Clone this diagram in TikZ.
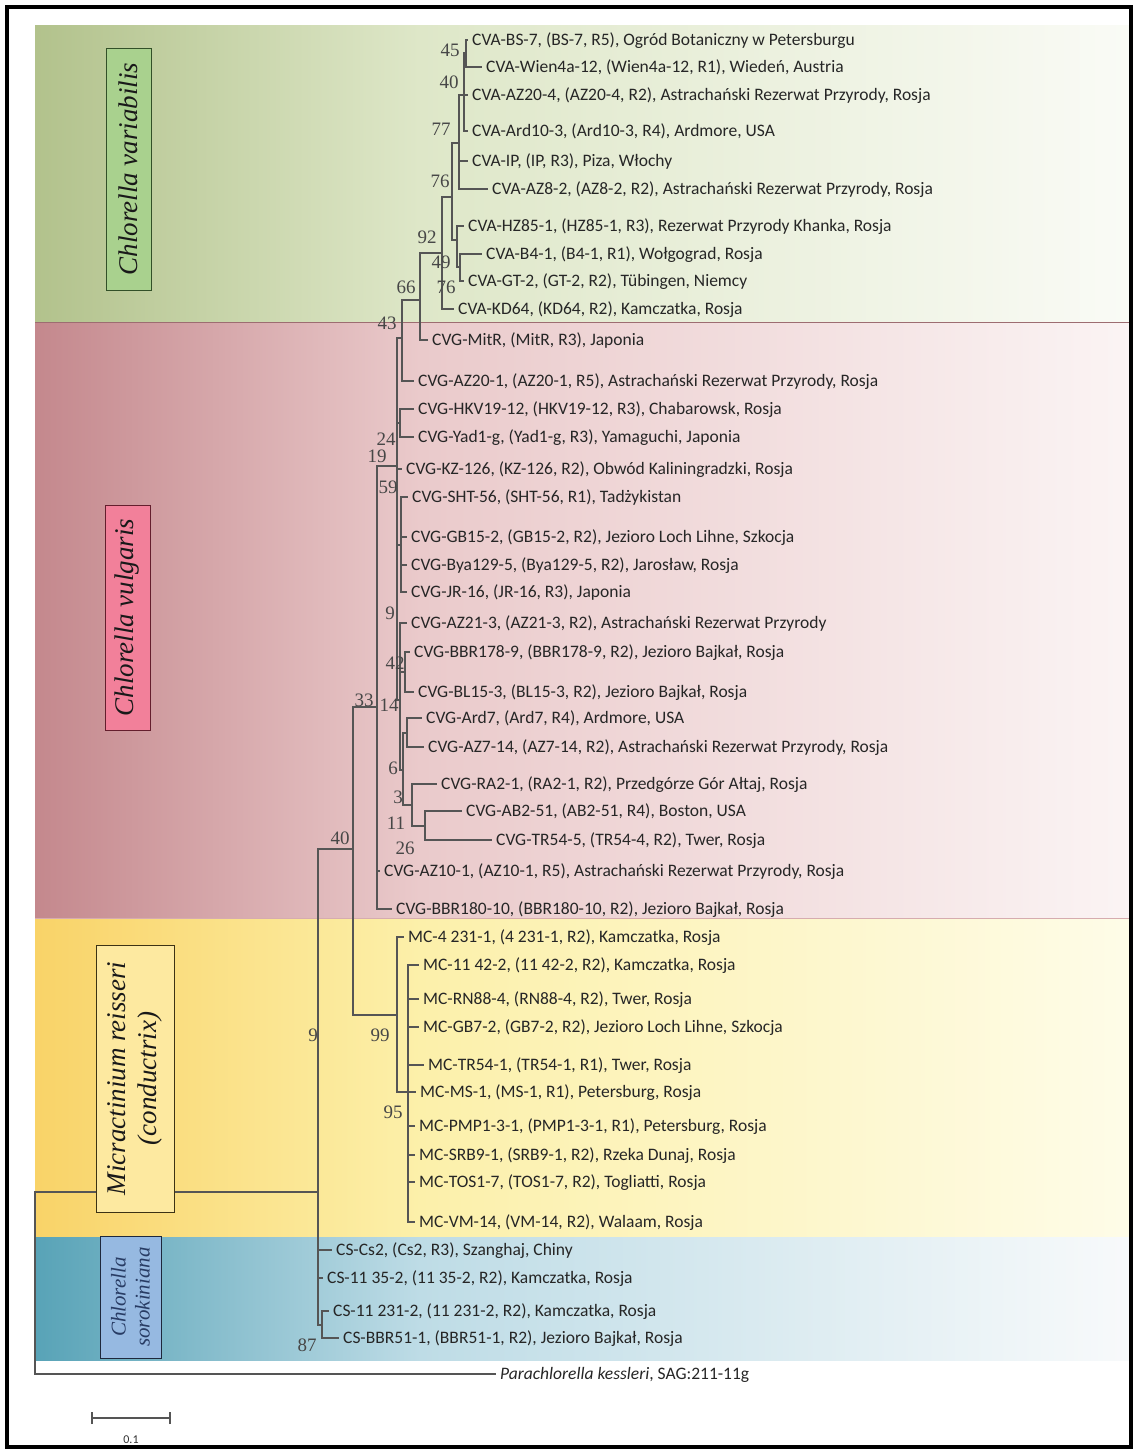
\documentclass[tikz,border=0pt]{standalone}
\usepackage{fontspec}
\setmainfont{Liberation Serif}
\newfontfamily\leaffont{Carlito}
\definecolor{gL}{RGB}{178,194,140}
\definecolor{gM}{RGB}{222,231,200}
\definecolor{gR}{RGB}{250,251,246}
\definecolor{pL}{RGB}{196,136,141}
\definecolor{pM}{RGB}{234,202,203}
\definecolor{pR}{RGB}{251,244,244}
\definecolor{yL}{RGB}{249,211,104}
\definecolor{yM}{RGB}{252,240,170}
\definecolor{yR}{RGB}{254,252,232}
\definecolor{bL}{RGB}{88,163,183}
\definecolor{bM}{RGB}{190,220,230}
\definecolor{bR}{RGB}{248,250,251}
\definecolor{varfill}{RGB}{169,209,142}
\definecolor{vardraw}{RGB}{50,80,40}
\definecolor{vulfill}{RGB}{242,128,154}
\definecolor{vuldraw}{RGB}{100,30,45}
\definecolor{micfill}{RGB}{253,233,160}
\definecolor{micdraw}{RGB}{60,50,20}
\definecolor{sorfill}{RGB}{150,185,225}
\definecolor{sordraw}{RGB}{30,40,60}
\definecolor{sortext}{RGB}{40,60,100}
\definecolor{treeline}{RGB}{85,85,85}
\newcommand{\leafnode}[4]{\node[leaf] (#1) at ({#2-4},#3) {#4};}
\newcommand{\bsv}[3]{\node[bs] (#1) at (#2) {#3};}
\begin{document}
\begin{tikzpicture}[x=1pt,y=-1pt,
  leaf/.style={anchor=west, inner xsep=4pt, inner ysep=0pt, font=\leaffont\fontsize{17.5}{20}\selectfont, text=black!85, text height=12pt, text depth=2pt},
  bs/.style={font=\fontsize{19}{20}\selectfont, text=black!72, inner sep=0pt},
  branch/.style={draw=treeline, line width=1.3pt},
  clabel/.style={rotate=90, draw, line width=0.9pt, font=\itshape\fontsize{27}{31}\selectfont, align=center, inner sep=0pt, text=black!90}
]
\useasboundingbox (0,0) rectangle (1136,1452);
\fill[white] (0,0) rectangle (1136,1452);
% bands
\shade[left color=gL, right color=gM] (35,25) rectangle (420,322);
\shade[left color=gM, right color=gR] (420,25) rectangle (1133,322);
\shade[left color=pL, right color=pM] (35,322) rectangle (420,918);
\shade[left color=pM, right color=pR] (420,322) rectangle (1133,918);
\shade[left color=yL, right color=yM] (35,918) rectangle (420,1237);
\shade[left color=yM, right color=yR] (420,918) rectangle (1133,1237);
\shade[left color=bL, right color=bM] (35,1237) rectangle (420,1360);
\shade[left color=bM, right color=bR] (420,1237) rectangle (1133,1360);
\draw[pL!80!black, line width=0.6pt] (35,322) -- (1133,322);
\draw[pL!70!white, line width=0.6pt] (35,918) -- (1133,918);
% frame
\draw[line width=4.5pt] (7,7) rectangle (1131,1447);

% leaves
\leafnode{l1}{472}{40}{CVA-BS-7, (BS-7, R5), Ogród Botaniczny w Petersburgu}
\leafnode{l2}{486}{67}{CVA-Wien4a-12, (Wien4a-12, R1), Wiedeń, Austria}
\leafnode{l3}{472}{95}{CVA-AZ20-4, (AZ20-4, R2), Astrachański Rezerwat Przyrody, Rosja}
\leafnode{l4}{472}{131}{CVA-Ard10-3, (Ard10-3, R4), Ardmore, USA}
\leafnode{l5}{472}{161}{CVA-IP, (IP, R3), Piza, Włochy}
\leafnode{l6}{492}{189}{CVA-AZ8-2, (AZ8-2, R2), Astrachański Rezerwat Przyrody, Rosja}
\leafnode{l7}{468}{226}{CVA-HZ85-1, (HZ85-1, R3), Rezerwat Przyrody Khanka, Rosja}
\leafnode{l8}{486}{254}{CVA-B4-1, (B4-1, R1), Wołgograd, Rosja}
\leafnode{l9}{468}{281}{CVA-GT-2, (GT-2, R2), Tübingen, Niemcy}
\leafnode{l10}{458}{309}{CVA-KD64, (KD64, R2), Kamczatka, Rosja}
\leafnode{l11}{432}{340}{CVG-MitR, (MitR, R3), Japonia}
\leafnode{l12}{418}{381}{CVG-AZ20-1, (AZ20-1, R5), Astrachański Rezerwat Przyrody, Rosja}
\leafnode{l13}{418}{409}{CVG-HKV19-12, (HKV19-12, R3), Chabarowsk, Rosja}
\leafnode{l14}{418}{437}{CVG-Yad1-g, (Yad1-g, R3), Yamaguchi, Japonia}
\leafnode{l15}{406}{469}{CVG-KZ-126, (KZ-126, R2), Obwód Kaliningradzki, Rosja}
\leafnode{l16}{412}{497}{CVG-SHT-56, (SHT-56, R1), Tadżykistan}
\leafnode{l17}{411}{537}{CVG-GB15-2, (GB15-2, R2), Jezioro Loch Lihne, Szkocja}
\leafnode{l18}{411}{565}{CVG-Bya129-5, (Bya129-5, R2), Jarosław, Rosja}
\leafnode{l19}{411}{592}{CVG-JR-16, (JR-16, R3), Japonia}
\leafnode{l20}{411}{623}{CVG-AZ21-3, (AZ21-3, R2), Astrachański Rezerwat Przyrody}
\leafnode{l21}{414}{652}{CVG-BBR178-9, (BBR178-9, R2), Jezioro Bajkał, Rosja}
\leafnode{l22}{418}{692}{CVG-BL15-3, (BL15-3, R2), Jezioro Bajkał, Rosja}
\leafnode{l23}{426}{718}{CVG-Ard7, (Ard7, R4), Ardmore, USA}
\leafnode{l24}{428}{747}{CVG-AZ7-14, (AZ7-14, R2), Astrachański Rezerwat Przyrody, Rosja}
\leafnode{l25}{441}{784}{CVG-RA2-1, (RA2-1, R2), Przedgórze Gór Ałtaj, Rosja}
\leafnode{l26}{466}{811}{CVG-AB2-51, (AB2-51, R4), Boston, USA}
\leafnode{l27}{496}{840}{CVG-TR54-5, (TR54-4, R2), Twer, Rosja}
\leafnode{l28}{384}{871}{CVG-AZ10-1, (AZ10-1, R5), Astrachański Rezerwat Przyrody, Rosja}
\leafnode{l29}{396}{909}{CVG-BBR180-10, (BBR180-10, R2), Jezioro Bajkał, Rosja}
\leafnode{l30}{408}{937}{MC-4 231-1, (4 231-1, R2), Kamczatka, Rosja}
\leafnode{l31}{423}{965}{MC-11 42-2, (11 42-2, R2), Kamczatka, Rosja}
\leafnode{l32}{423}{999}{MC-RN88-4, (RN88-4, R2), Twer, Rosja}
\leafnode{l33}{423}{1027}{MC-GB7-2, (GB7-2, R2), Jezioro Loch Lihne, Szkocja}
\leafnode{l34}{428}{1065}{MC-TR54-1, (TR54-1, R1), Twer, Rosja}
\leafnode{l35}{420}{1092}{MC-MS-1, (MS-1, R1), Petersburg, Rosja}
\leafnode{l36}{419}{1126}{MC-PMP1-3-1, (PMP1-3-1, R1), Petersburg, Rosja}
\leafnode{l37}{419}{1155}{MC-SRB9-1, (SRB9-1, R2), Rzeka Dunaj, Rosja}
\leafnode{l38}{419}{1182}{MC-TOS1-7, (TOS1-7, R2), Togliatti, Rosja}
\leafnode{l39}{419}{1222}{MC-VM-14, (VM-14, R2), Walaam, Rosja}
\leafnode{l40}{336}{1250}{CS-Cs2, (Cs2, R3), Szanghaj, Chiny}
\leafnode{l41}{327}{1278}{CS-11 35-2, (11 35-2, R2), Kamczatka, Rosja}
\leafnode{l42}{333}{1311}{CS-11 231-2, (11 231-2, R2), Kamczatka, Rosja}
\leafnode{l43}{343}{1338}{CS-BBR51-1, (BBR51-1, R2), Jezioro Bajkał, Rosja}
\leafnode{l44}{500}{1374}{\textit{Parachlorella kessleri}, SAG:211-11g}

% internal nodes
\coordinate (n45) at (466,53);
\coordinate (n40a) at (464,95);
\coordinate (n77) at (459,143);
\coordinate (n76a) at (452,197);
\coordinate (n49) at (457,240);
\coordinate (n49b) at (460,267);
\coordinate (n92) at (442,253);
\coordinate (n66) at (420,300);
\coordinate (n43) at (402,338);
\coordinate (n24) at (400,423);
\coordinate (n59) at (401,545);
\coordinate (n26) at (425,826);
\coordinate (n11) at (412,805);
\coordinate (n14) at (407,733);
\coordinate (n6) at (403,770);
\coordinate (n42) at (405,672);
\coordinate (n9v) at (400,700);
\coordinate (n19) at (397,466);
\coordinate (n33) at (377,707);
\coordinate (n95) at (408,1092);
\coordinate (n99) at (397,1015);
\coordinate (n40b) at (353,849);
\coordinate (n87) at (322,1325);
\coordinate (ncs) at (318,1278);
\coordinate (n9) at (318,1192);
\coordinate (root) at (35,1280);

% branches
\draw[branch] (n45) |- (l1.west) (n45) |- (l2.west);
\draw[branch] (n40a) |- (n45) (n40a) |- (l3.west) (n40a) |- (l4.west);
\draw[branch] (n77) |- (n40a) (n77) |- (l5.west) (n77) |- (l6.west);
\draw[branch] (n49b) |- (l8.west) (n49b) |- (l9.west);
\draw[branch] (n49) |- (l7.west) (n49) |- (n49b);
\draw[branch] (n76a) |- (n77) (n76a) |- (n49);
\draw[branch] (n92) |- (n76a) (n92) |- (l10.west);
\draw[branch] (n66) |- (n92) (n66) |- (l11.west);
\draw[branch] (n43) |- (n66) (n43) |- (l12.west);
\draw[branch] (n24) |- (l13.west) (n24) |- (l14.west);
\draw[branch] (n59) |- (l16.west) (n59) |- (l17.west) (n59) |- (l18.west) (n59) |- (l19.west);
\draw[branch] (n26) |- (l26.west) (n26) |- (l27.west);
\draw[branch] (n11) |- (l25.west) (n11) |- (n26);
\draw[branch] (n14) |- (l23.west) (n14) |- (l24.west);
\draw[branch] (n6) |- (n14) (n6) |- (n11);
\draw[branch] (n42) |- (l21.west) (n42) |- (l22.west);
\draw[branch] (n9v) |- (l20.west) (n9v) |- (n42) (n9v) |- (n6);
\draw[branch] (n19) |- (n43) (n19) |- (n24) (n19) |- (l15.west) (n19) |- (n59) (n19) |- (n9v);
\draw[branch] (n33) |- (n19) (n33) |- (l28.west) (n33) |- (l29.west);
\draw[branch] (n95) |- (l31.west) (n95) |- (l32.west) (n95) |- (l33.west) (n95) |- (l34.west)
  (n95) |- (l35.west) (n95) |- (l36.west) (n95) |- (l37.west) (n95) |- (l38.west) (n95) |- (l39.west);
\draw[branch] (n99) |- (l30.west) (n99) |- (n95);
\draw[branch] (n40b) |- (n33) (n40b) |- (n99);
\draw[branch] (n87) |- (l42.west) (n87) |- (l43.west);
\draw[branch] (ncs) |- (l40.west) (ncs) |- (l41.west) (ncs) |- (n87);
\draw[branch] (n9) |- (n40b) (n9) |- (ncs);
\draw[branch] (root) |- (n9) (root) |- (l44.west);

% bootstrap values
\bsv{b45}{450,50}{45}
\bsv{b40a}{449,82}{40}
\bsv{b77}{441,129}{77}
\bsv{b76a}{440,181}{76}
\bsv{b92}{427,237}{92}
\bsv{b49}{441,262}{49}
\bsv{b76b}{446,287}{76}
\bsv{b66}{406,287}{66}
\bsv{b43}{387,323}{43}
\bsv{b24}{386,439}{24}
\bsv{b19}{377,456}{19}
\bsv{b59}{388,487}{59}
\bsv{b9v}{390,613}{9}
\bsv{b42}{395,663}{42}
\bsv{b14}{389,705}{14}
\bsv{b6}{393,768}{6}
\bsv{b3}{398,797}{3}
\bsv{b11}{396,823}{11}
\bsv{b26}{405,848}{26}
\bsv{b33}{364,700}{33}
\bsv{b40b}{340,838}{40}
\bsv{b99}{380,1035}{99}
\bsv{b95}{393,1112}{95}
\bsv{b9}{313,1035}{9}
\bsv{b87}{307,1345}{87}

% clade labels
\node[clabel, fill=varfill, draw=vardraw, minimum width=242pt, minimum height=45pt] (cvar) at (128.5,169) {Chlorella variabilis};
\node[clabel, fill=vulfill, draw=vuldraw, minimum width=225pt, minimum height=45pt] (cvul) at (127.5,617.5) {Chlorella vulgaris};
\node[clabel, fill=micfill, draw=micdraw, minimum width=267pt, minimum height=78pt] (cmic) at (135,1078.5) {Micractinium reisseri\\(conductrix)};
\node[clabel, fill=sorfill, draw=sordraw, text=sortext, minimum width=122pt, minimum height=61pt, font=\itshape\fontsize{21}{24}\selectfont] (csor) at (130.5,1297) {Chlorella\\sorokiniana};

% scale bar
\coordinate (sbA) at (92,1418);
\coordinate (sbB) at (170,1418);
\draw[branch, line width=1.2pt] (sbA) -- (sbB);
\draw[branch, line width=1.2pt] ([yshift=-6pt]sbA) -- ([yshift=6pt]sbA);
\draw[branch, line width=1.2pt] ([yshift=-6pt]sbB) -- ([yshift=6pt]sbB);
\node[font=\leaffont\fontsize{12}{14}\selectfont, text=black!80] (sbl) at (131,1440) {0.1};
\end{tikzpicture}
\end{document}
